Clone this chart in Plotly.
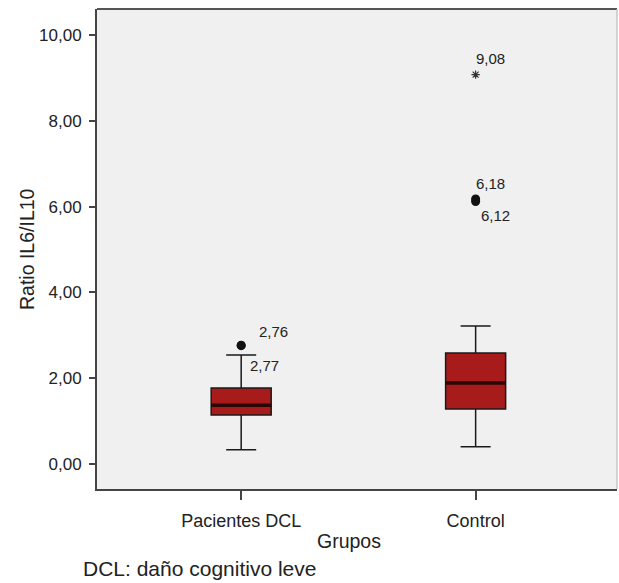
import plotly.graph_objects as go

# ---- data ----
groups = ["Pacientes DCL", "Control"]
q1 = [1.14, 1.28]
median = [1.37, 1.89]
q3 = [1.77, 2.59]
lower_whisker = [0.33, 0.40]
upper_whisker = [2.54, 3.22]

# outliers: group index, value, kind
out_group = [0, 0, 1, 1]
out_value = [2.76, 2.77, 6.18, 6.12]
extreme_group = [1]
extreme_value = [9.08]

x_title = "Grupos"
y_title = "Ratio IL6/IL10"
footnote = "DCL: daño cognitivo leve"

# ---- style ----
BOX_W = 0.256
FONT = "Liberation Sans, Arial, Helvetica, sans-serif"
pos = list(range(len(groups)))

fig = go.Figure()
fig.add_trace(go.Box(
    x=pos, q1=q1, median=median, q3=q3,
    lowerfence=lower_whisker, upperfence=upper_whisker,
    width=BOX_W, whiskerwidth=0.5,
    fillcolor="#A81B1B", line=dict(color="#1a1a1a", width=1.5),
    boxpoints=False, showlegend=False, hoverinfo="skip",
))

# thicker median lines
for p, m in zip(pos, median):
    fig.add_trace(go.Scatter(
        x=[p - BOX_W / 2, p + BOX_W / 2], y=[m, m], mode="lines",
        line=dict(color="#2a0606", width=3.5), showlegend=False, hoverinfo="skip"))

fig.add_trace(go.Scatter(
    x=[pos[g] for g in out_group], y=out_value, mode="markers",
    marker=dict(symbol="circle", size=9, color="#111111"),
    showlegend=False, hoverinfo="skip"))
fig.add_trace(go.Scatter(
    x=[pos[g] for g in extreme_group], y=extreme_value, mode="markers",
    marker=dict(symbol="asterisk-open", size=7, color="#333333", line=dict(width=1.2, color="#333333")),
    showlegend=False, hoverinfo="skip"))

def fmt(v):
    return f"{v:.2f}".replace(".", ",")

# label offsets (pixels) as in the reference
label_shift = [(16, 14), (7, -20), (-2, 15), (3, -14)]
for g, v, (dx, dy) in zip(out_group, out_value, label_shift):
    fig.add_annotation(x=pos[g], y=v, text=fmt(v), showarrow=False,
                       xanchor="left", yanchor="middle", xshift=dx, yshift=dy,
                       font=dict(family=FONT, size=15, color="#222222"))
for g, v in zip(extreme_group, extreme_value):
    fig.add_annotation(x=pos[g], y=v, text=fmt(v), showarrow=False,
                       xanchor="left", yanchor="middle", xshift=-2, yshift=16,
                       font=dict(family=FONT, size=15, color="#222222"))

# titles and footnote
fig.add_annotation(xref="paper", yref="paper", x=(349 - 97) / 520, y=(489 - 541) / 480,
                   text=x_title, showarrow=False, xanchor="center", yanchor="middle",
                   font=dict(family=FONT, size=19.5, color="#222222"))
fig.add_annotation(xref="paper", yref="paper", x=(27 - 97) / 520, y=0.5,
                   text=y_title, showarrow=False, textangle=-90,
                   xanchor="center", yanchor="middle",
                   font=dict(family=FONT, size=19.5, color="#222222"))
fig.add_annotation(xref="paper", yref="paper", x=(81 - 97) / 520, y=(489 - 568) / 480,
                   text=footnote, showarrow=False, xanchor="left", yanchor="middle",
                   font=dict(family=FONT, size=21, color="#222222"))

# frame: top dark, right light
fig.add_shape(type="line", xref="paper", yref="paper", x0=0, x1=1, y0=1, y1=1,
              line=dict(color="#555555", width=2))
fig.add_shape(type="line", xref="paper", yref="paper", x0=1, x1=1, y0=0, y1=1,
              line=dict(color="#bbbbbb", width=1.2))

fig.update_layout(
    width=619, height=583,
    margin=dict(l=97, r=2, t=9, b=94),
    paper_bgcolor="white", plot_bgcolor="#F0F0F0",
    separators=",.",
    font=dict(family=FONT, color="#222222"),
    xaxis=dict(
        range=[-0.615, 1.603], tickmode="array", tickvals=pos, ticktext=groups,
        showgrid=False, zeroline=False, showline=True, linecolor="#444444", linewidth=2,
        ticks="outside", ticklen=9, tickwidth=1.5, tickcolor="#444444",
        tickfont=dict(size=18, color="#222222"), ticklabelstandoff=5,
    ),
    yaxis=dict(
        range=[-0.583, 10.61], tickmode="array", tickvals=[0, 2, 4, 6, 8, 10],
        tickformat=".2f",
        showgrid=False, zeroline=False, showline=True, linecolor="#444444", linewidth=2,
        ticks="outside", ticklen=6, tickwidth=1.5, tickcolor="#444444",
        tickfont=dict(size=17, color="#222222"), ticklabelstandoff=4,
    ),
)

fig.write_html("out.html")
